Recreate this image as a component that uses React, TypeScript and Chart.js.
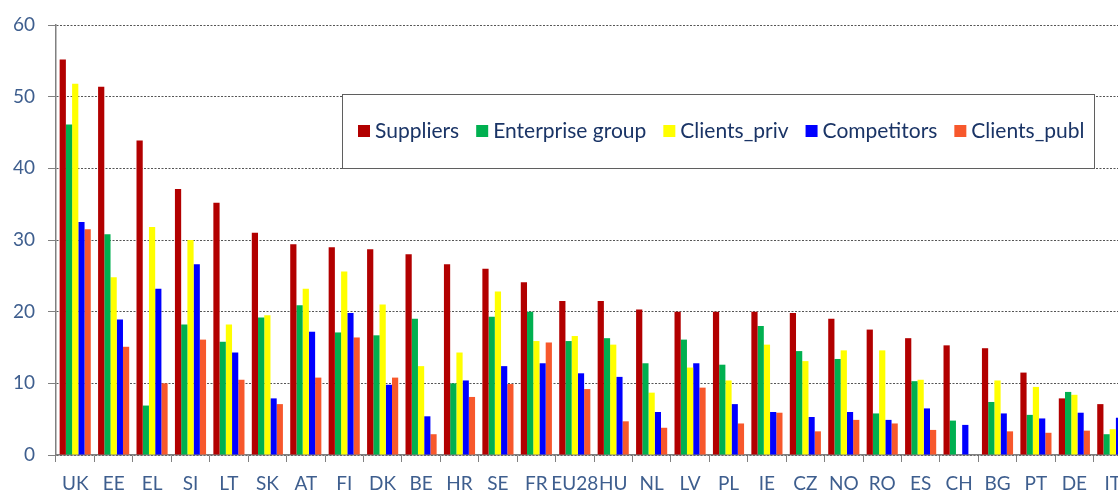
import React, { useEffect, useRef } from "react";
import { Chart, registerables } from "chart.js";

Chart.register(...registerables);

const categories = ["UK", "EE", "EL", "SI", "LT", "SK", "AT", "FI", "DK", "BE", "HR", "SE", "FR", "EU28", "HU", "NL", "LV", "PL", "IE", "CZ", "NO", "RO", "ES", "CH", "BG", "PT", "DE", "IT"];
const suppliers = [55.2, 51.4, 43.9, 37.1, 35.2, 31.0, 29.4, 29.0, 28.7, 28.0, 26.6, 26.0, 24.1, 21.5, 21.5, 20.3, 20.0, 20.0, 20.0, 19.8, 19.0, 17.5, 16.3, 15.3, 14.9, 11.5, 7.9, 7.1];
const enterpriseGroup = [46.1, 30.8, 6.9, 18.2, 15.8, 19.2, 20.9, 17.1, 16.7, 19.0, 10.0, 19.3, 20.0, 15.9, 16.3, 12.8, 16.1, 12.6, 18.0, 14.5, 13.4, 5.8, 10.3, 4.8, 7.4, 5.6, 8.8, 2.9];
const clientsPriv = [51.8, 24.8, 31.8, 30.0, 18.2, 19.5, 23.2, 25.6, 21.0, 12.4, 14.3, 22.8, 15.9, 16.6, 15.4, 8.7, 12.2, 10.4, 15.4, 13.1, 14.6, 14.6, 10.5, null, 10.4, 9.5, 8.4, 3.6];
const competitors = [32.5, 18.9, 23.2, 26.6, 14.3, 7.9, 17.2, 19.8, 9.8, 5.4, 10.4, 12.4, 12.8, 11.4, 10.9, 6.0, 12.8, 7.1, 6.0, 5.3, 6.0, 4.9, 6.5, 4.2, 5.8, 5.1, 5.9, 5.2];
const clientsPubl = [31.5, 15.1, 10.0, 16.1, 10.5, 7.1, 10.8, 16.4, 10.8, 2.9, 8.1, 9.9, 15.7, 9.2, 4.7, 3.8, 9.4, 4.4, 5.9, 3.3, 4.9, 4.4, 3.5, null, 3.3, 3.1, 3.4, 3.0];
const seriesNames = ["Suppliers", "Enterprise group", "Clients_priv", "Competitors", "Clients_publ"];
const seriesColors = ["#B20000", "#00B050", "#FFFF00", "#0000FF", "#F7582C"];
const yMin = 0;
const yMax = 60;
const yStep = 10;

const FONT = "Lato, 'Open Sans', sans-serif";
const LABEL_COLOR = "#3E5E8E";
const LEGEND_TEXT = "#1A3466";

const legendPlugin = {
  id: "boxLegend",
  afterDraw(chart: any) {
    const ctx = chart.ctx;
    const box = { x: 342.5, y: 94.5, w: 752, h: 74 };
    ctx.save();
    ctx.fillStyle = "#ffffff";
    ctx.fillRect(box.x, box.y, box.w, box.h);
    ctx.strokeStyle = "#5f5f5f";
    ctx.lineWidth = 1;
    ctx.strokeRect(box.x, box.y, box.w, box.h);
    ctx.font = `21px ${FONT}`;
    ctx.textBaseline = "alphabetic";
    let x = 358;
    const baseY = 138;
    chart.data.datasets.forEach((ds: any) => {
      ctx.fillStyle = ds.backgroundColor;
      ctx.fillRect(x, 125, 12, 12);
      x += 12 + 5;
      ctx.fillStyle = LEGEND_TEXT;
      ctx.fillText(ds.label, x, baseY);
      x += ctx.measureText(ds.label).width + 17;
    });
    ctx.restore();
  },
};

export default function App() {
  const ref = useRef<HTMLCanvasElement>(null);
  useEffect(() => {
    if (!ref.current) return;
    const values = [suppliers, enterpriseGroup, clientsPriv, competitors, clientsPubl];
    const chart = new Chart(ref.current, {
      type: "bar",
      data: {
        labels: categories,
        datasets: values.map((v, i) => ({
          label: seriesNames[i],
          data: v,
          backgroundColor: seriesColors[i],
          borderWidth: 0,
          categoryPercentage: 0.81,
          barPercentage: 1.0,
        })),
      },
      options: {
        animation: false,
        responsive: false,
        layout: { padding: { top: 25, right: 8, left: 0, bottom: 0 } },
        plugins: { legend: { display: false }, tooltip: { enabled: false } },
        scales: {
          x: {
            afterFit: (s: any) => { s.height = 38; },
            grid: { display: true, drawOnChartArea: false, drawTicks: true, tickLength: 7, color: "#808080", offset: true },
            border: { display: true, color: "#808080", width: 1.5 },
            ticks: { autoSkip: false, maxRotation: 0, minRotation: 0, padding: 10, color: LABEL_COLOR, font: { family: FONT, size: 19 } },
          },
          y: {
            min: yMin,
            max: yMax,
            afterFit: (s: any) => { s.width = 56; },
            grid: { color: "#555555", lineWidth: 1, tickLength: 8, tickColor: "#808080", tickBorderDash: [] },
            border: { display: true, color: "#808080", width: 1.5, dash: [2, 1.5] },
            ticks: { stepSize: yStep, padding: 13, color: LABEL_COLOR, font: { family: FONT, size: 19 } },
          },
        },
      },
      plugins: [legendPlugin],
    });
    return () => chart.destroy();
  }, []);
  return (
    <div style={{ position: "fixed", left: 0, top: 0, width: 1118, height: 493, overflow: "hidden", background: "#fff" }}>
      <canvas ref={ref} width={1140} height={493} style={{ width: 1140, height: 493, display: "block" }} />
    </div>
  );
}
